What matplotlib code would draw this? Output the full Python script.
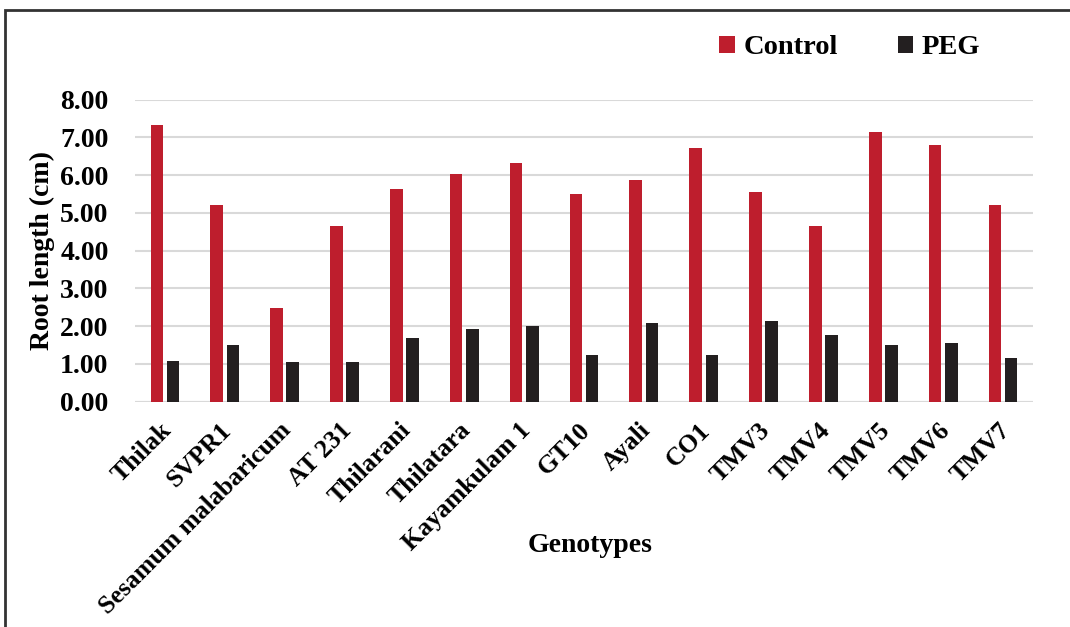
import matplotlib
matplotlib.use("Agg")
import matplotlib.pyplot as plt
import matplotlib.transforms as mtransforms
import numpy as np
from matplotlib.patches import Rectangle

plt.rcParams['font.family'] = ['Liberation Serif', 'DejaVu Serif']
plt.rcParams['font.weight'] = 'bold'

genotypes = ["Thilak", "SVPR1", "Sesamum malabaricum", "AT 231", "Thilarani",
             "Thilatara", "Kayamkulam 1", "GT10", "Ayali", "CO1",
             "TMV3", "TMV4", "TMV5", "TMV6", "TMV7"]
control = [7.33, 5.22, 2.47, 4.66, 5.63, 6.04, 6.33, 5.50, 5.87, 6.73,
           5.56, 4.66, 7.14, 6.79, 5.20]
peg = [1.09, 1.49, 1.06, 1.05, 1.69, 1.93, 2.00, 1.23, 2.09, 1.25,
       2.13, 1.78, 1.50, 1.55, 1.16]
yticks = [0, 1, 2, 3, 4, 5, 6, 7, 8]

RED = "#BE1E2D"
BLACK = "#231F20"
GRID = "#D9D9D9"

W, H = 1070, 627
fig = plt.figure(figsize=(W / 100, H / 100), dpi=100)
ax = fig.add_axes([135 / W, 1 - 401.7 / H, (1033 - 135) / W, (401.7 - 99.7) / H])

x = np.arange(len(genotypes))
bw = 0.21
ax.bar(x - 0.135, control, width=bw, color=RED, label="Control", zorder=3)
ax.bar(x + 0.135, peg, width=bw, color=BLACK, label="PEG", zorder=3)

ax.set_xlim(-0.5, len(genotypes) - 0.5)
ax.set_ylim(0, 8)
ax.set_yticks(yticks)
ax.set_yticklabels([f"{v:.2f}" for v in yticks], fontsize=20, fontweight='bold')
ax.yaxis.grid(True, color=GRID, linewidth=1.5, zorder=0)
ax.set_axisbelow(True)
for s in ["top", "right", "left", "bottom"]:
    ax.spines[s].set_visible(False)
ax.axhline(0, color=GRID, linewidth=1.5, zorder=1)
ax.tick_params(axis='both', length=0)
ax.tick_params(axis='y', pad=19)

ax.set_xticks(x)
ax.set_xticklabels(genotypes, rotation=45, ha='right', va='center',
                   rotation_mode='anchor', fontsize=18.5, fontweight='bold')
ax.tick_params(axis='x', pad=18)
shift = mtransforms.ScaledTranslation(3 / 100, 0, fig.dpi_scale_trans)
for lbl in ax.get_xticklabels():
    lbl.set_transform(lbl.get_transform() + shift)

ax.set_ylabel("Root length (cm)", fontsize=20, fontweight='bold', labelpad=4)
fig.text(590 / W, 1 - 545 / H, "Genotypes", ha='center', va='center',
         fontsize=20, fontweight='bold')

ax.legend(loc='center', bbox_to_anchor=(850 / W, 1 - 48 / H),
          bbox_transform=fig.transFigure, ncol=2, frameon=False,
          prop={'size': 20.5, 'weight': 'bold'}, handlelength=0.55,
          handleheight=0.55, handletextpad=0.3, columnspacing=2.1)

# outer frame around the figure
fig.patches.append(Rectangle((5 / W, -0.1), 1.2, 1 - 10 / H + 0.1,
                             transform=fig.transFigure, fill=False,
                             edgecolor="#333333", linewidth=2))

fig.savefig("out.png", dpi=100)
